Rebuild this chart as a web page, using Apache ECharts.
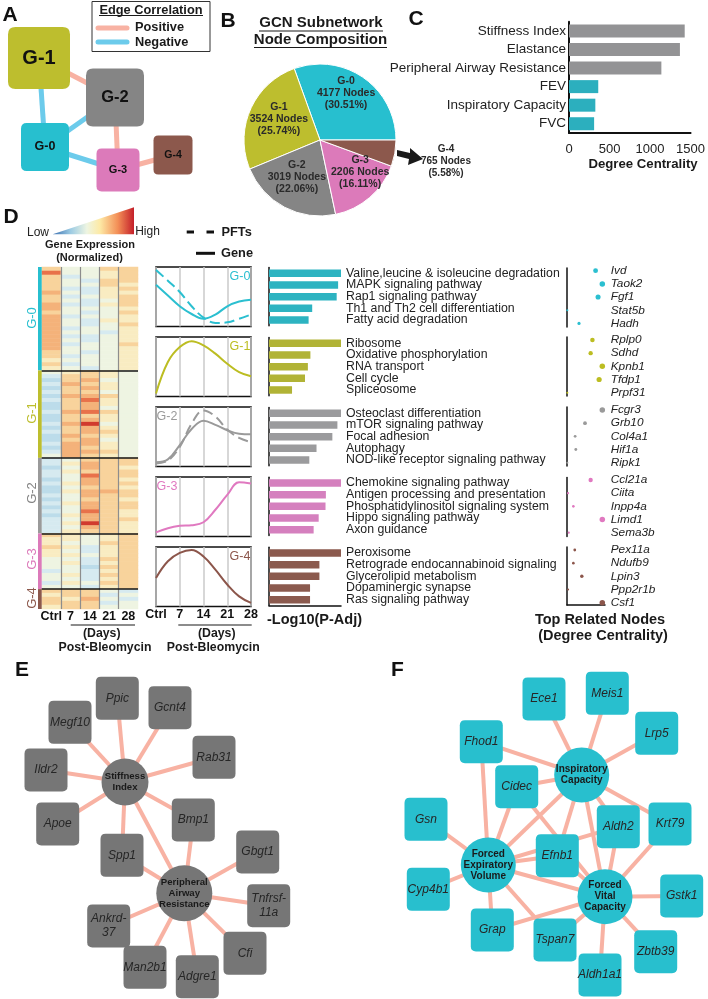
<!DOCTYPE html>
<html><head><meta charset="utf-8">
<script src="https://cdn.jsdelivr.net/npm/echarts@6/dist/echarts.min.js"></script>
<style>html,body{margin:0;padding:0;background:#fff}#c{width:708px;height:999px}</style>
</head><body><div id="c"></div>
<script>
const FONT = "'Liberation Sans', Arial, Helvetica, sans-serif";

// ---------- shared ----------
const groups = ['G-0','G-1','G-2','G-3','G-4'];
const groupColors = ['#27bfcf','#bdbe2e','#858585','#dc7aba','#8c584c'];
const stripColors = ['#27bfcf','#bdbe2e','#9a9a9a','#dc7aba','#8c584c'];
const curveColors = ['#2bbfd0','#bcbd22','#9a9a9a','#e079c0','#8c564b'];
const barColors = ['#2db3c1','#b1b336','#9b9b9d','#d580be','#8b5a4e'];
const edgePos = '#f8b2a3', edgeNeg = '#6ccbeb';

// ---------- Panel A ----------
const aNodeNames = ['G-1','G-2','G-0','G-3','G-4'];
const aNodeX = [39, 115, 45, 118, 173];
const aNodeY = [58, 97.5, 147, 170, 155];
const aNodeSize = [62, 58, 48, 43, 39];
const aLabelSize = [20, 16.5, 12.5, 11, 10.5];
const aLinks = [['G-1','G-2',1],['G-1','G-0',-1],['G-0','G-2',-1],['G-0','G-3',-1],['G-2','G-3',1],['G-3','G-4',1]];

// ---------- Panel B ----------
const nodeCounts = [4177, 3524, 3019, 2206, 765];
const nodePct = ['30.51','25.74','22.06','16.11','5.58'];

// ---------- Panel C ----------
const pftNames = ['Stiffness Index','Elastance','Peripheral Airway Resistance','FEV','Inspiratory Capacity','FVC'];
const pftDegree = [1428, 1369, 1140, 361, 325, 310];
const pftMechanic = [1, 1, 1, 0, 0, 0];

// ---------- Panel D: heatmap (levels 0..9, columns Ctrl,7,14,21,28) ----------
const heatCols = ['Ctrl','7','14','21','28'];
const heatG0 = ['64466','84456','63456','64366','64465','63356','74355','63456','64346','73356','74445','64346','73445','74355','74346','73445','74435','73345','74345','73446','74445','64345','63445','54445','63445','54345'];
const heatG1 = ['45654','36654','26744','37654','26754','36644','27764','36854','26754','26744','37864','26654','26754','37944','26754','36764','27654','26744','37754','27654','37764','47654'];
const heatG2 = ['34666','35766','24765','35666','34866','24765','35766','24665','25776','34766','24665','35766','24766','34865','25765','34766','35965','34765','35665'];
const heatG3 = ['65456','55456','54466','65356','54356','55456','44366','45356','44266','34356','45366','44356','35466','44356'];
const heatG4 = ['66643','56634','65743','66634','56644'];
const heatRows = [heatG0, heatG1, heatG2, heatG3, heatG4];
const heatPalette = ['#4a7fb8','#86b7d8','#bcdcea','#d6eaf0','#eef4e2','#f9ecc2','#f8d39c','#f4b27a','#e8714a','#d13a2e'];

// ---------- Panel D: trend curves (normalized 0..1) ----------
const curveDays = [0, 3.5, 7, 10.5, 14, 17.5, 21, 24.5, 28];
const dayTicks = [0, 28, 7];
const geneCurves = [
  [0.70,0.52,0.34,0.21,0.13,0.20,0.34,0.42,0.45],
  [0.05,0.58,0.83,0.93,0.86,0.72,0.55,0.41,0.34],
  [0.07,0.12,0.36,0.63,0.77,0.70,0.61,0.55,0.54],
  [0.07,0.14,0.18,0.19,0.24,0.45,0.70,0.91,0.89],
  [0.48,0.76,0.90,0.95,0.84,0.62,0.37,0.17,0.06]
];
const pftCurves = [
  [0.95,0.77,0.58,0.34,0.15,0.06,0.07,0.13,0.20],
  null,
  [0.05,0.10,0.33,0.72,0.94,0.84,0.62,0.48,0.41],
  null, null
];

// ---------- Panel D: KEGG pathways ----------
const pathways = [
  ['Valine,leucine & isoleucine degradation','MAPK signaling pathway','Rap1 signaling pathway','Th1 and Th2 cell differentiation','Fatty acid degradation'],
  ['Ribosome','Oxidative phosphorylation','RNA transport','Cell cycle','Spliceosome'],
  ['Osteoclast differentiation','mTOR signaling pathway','Focal adhesion','Autophagy','NOD-like receptor signaling pathway'],
  ['Chemokine signaling pathway','Antigen processing and presentation','Phosphatidylinositol signaling system','Hippo signaling pathway','Axon guidance'],
  ['Peroxisome','Retrograde endocannabinoid signaling','Glycerolipid metabolism','Dopaminergic synapse','Ras signaling pathway']
];
const pathwayScore = [
  [1.00,0.96,0.94,0.60,0.55],
  [1.00,0.575,0.54,0.50,0.32],
  [1.00,0.95,0.88,0.66,0.56],
  [1.00,0.79,0.785,0.69,0.62],
  [1.00,0.70,0.70,0.57,0.57]
];

// ---------- Panel D: top related nodes ----------
const topNodes = [
  ['Ivd','Taok2','Fgf1','Stat5b','Hadh'],
  ['Rplp0','Sdhd','Kpnb1','Tfdp1','Prpf31'],
  ['Fcgr3','Grb10','Col4a1','Hif1a','Ripk1'],
  ['Ccl21a','Ciita','Inpp4a','Limd1','Sema3b'],
  ['Pex11a','Ndufb9','Lpin3','Ppp2r1b','Csf1']
];
const topNodeScore = [
  [0.81,1.00,0.88,0.01,0.34],
  [0.72,0.67,1.00,0.91,0.01],
  [1.00,0.51,0.23,0.25,0.01],
  [0.67,0.03,0.18,1.00,0.05],
  [0.22,0.18,0.42,0.03,1.00]
];

// ---------- Panel E network ----------
const eNodes = [
  ['Stiffness Index',125,782,'hub',47,'Stiffness\nIndex'],
  ['Peripheral Airway Resistance',184.3,893.3,'hub',56,'Peripheral\nAirway\nResistance'],
  ['Ppic',117.3,698.3],['Gcnt4',170,707.7],['Megf10',70,722.3],['Rab31',214,757.3],
  ['Ildr2',46,770],['Apoe',57.7,824],['Bmp1',193.3,820],['Spp1',122,855.3],
  ['Gbgt1',257.7,852],['Tnfrsf-11a',268.7,905.7,'gene',43,'Tnfrsf-\n11a'],['Ankrd-37',108.7,926,'gene',43,'Ankrd-\n37'],
  ['Cfi',245,953.3],['Man2b1',145,967.3],['Adgre1',197.3,976.7]
];
const eLinks = [
  ['Stiffness Index',['Ppic','Gcnt4','Megf10','Rab31','Ildr2','Apoe','Bmp1','Spp1','Peripheral Airway Resistance']],
  ['Peripheral Airway Resistance',['Spp1','Bmp1','Gbgt1','Tnfrsf-11a','Cfi','Adgre1','Man2b1','Ankrd-37']]
];

// ---------- Panel F network ----------
const fNodes = [
  ['Inspiratory Capacity',581.7,775,'hub',55,'Inspiratory\nCapacity'],
  ['Forced Expiratory Volume',488.3,865,'hub',55,'Forced\nExpiratory\nVolume'],
  ['Forced Vital Capacity',605,896.7,'hub',55,'Forced\nVital\nCapacity'],
  ['Ece1',544,699],['Meis1',607.3,693.3],['Lrp5',656.7,733.3],['Fhod1',481.3,741.7],
  ['Cidec',516.7,786.7],['Gsn',426,819.3],['Krt79',670,824],['Aldh2',618.3,826.7],
  ['Efnb1',557.3,855.7],['Cyp4b1',428.3,889.3],['Gstk1',681.7,896],['Grap',492.3,930],
  ['Tspan7',555,940],['Zbtb39',655.7,951.7],['Aldh1a1',600,975]
];
const fLinks = [
  ['Inspiratory Capacity',['Ece1','Meis1','Lrp5','Fhod1','Cidec','Krt79','Aldh2','Efnb1','Forced Expiratory Volume','Forced Vital Capacity']],
  ['Forced Expiratory Volume',['Gsn','Cyp4b1','Grap','Fhod1','Cidec','Efnb1','Aldh2','Tspan7','Forced Vital Capacity']],
  ['Forced Vital Capacity',['Efnb1','Cidec','Aldh2','Krt79','Gstk1','Zbtb39','Aldh1a1','Tspan7','Grap']]
];

// =====================================================================
const RR = 'path://M12,0H88Q100,0 100,12V88Q100,100 88,100H12Q0,100 0,88V12Q0,0 12,0Z';
const grids = [], xAxes = [], yAxes = [], series = [];
const G = g => (grids.push(g), grids.length - 1);
const X = a => (xAxes.push(a), xAxes.length - 1);
const Y = a => (yAxes.push(a), yAxes.length - 1);
const S = s => (series.push(s), series.length - 1);
const hidden = (gi, min, max, inv) => ({type:'value', gridIndex:gi, min, max, inverse:!!inv, show:false});

// page grid for networks
const gPage = G({left:0, top:0, width:708, height:999});
const xPage = X(hidden(gPage, 0, 708));
const yPage = Y(hidden(gPage, 0, 999, true));

// Panel A graph
S({
  type:'graph', coordinateSystem:'cartesian2d', xAxisIndex:xPage, yAxisIndex:yPage, silent:true, z:3,
  data: aNodeNames.map((n,i)=>({name:n, value:[aNodeX[i], aNodeY[i]], symbol:RR, symbolSize:aNodeSize[i],
    itemStyle:{color:groupColors[groups.indexOf(n)]},
    label:{show:true, position:'inside', fontSize:aLabelSize[i], fontWeight:'bold', color:'#111', fontFamily:FONT}})),
  links: aLinks.map(l=>({source:l[0], target:l[1], lineStyle:{color:l[2]>0?edgePos:edgeNeg, width:5, opacity:1, curveness:0}}))
});

function netSeries(nodes, links, color, hubFont) {
  const data = nodes.map(n => {
    const hub = n[3] === 'hub';
    return {
      name:n[0], value:[n[1], n[2]], symbol: hub ? 'circle' : RR, symbolSize: n[4] || 43,
      itemStyle:{color},
      label: hub
        ? {show:true, position:'inside', formatter:n[5], fontWeight:'bold', fontSize:hubFont, lineHeight:11, color:'#1a1a1a', fontFamily:FONT}
        : {show:true, position:'inside', formatter:n[5] || n[0], fontStyle:'italic', fontSize:12, lineHeight:14, color:'#262626', fontFamily:FONT}
    };
  });
  const ls = [];
  links.forEach(([src, tgts]) => tgts.forEach(t => ls.push({source:src, target:t})));
  return {type:'graph', coordinateSystem:'cartesian2d', xAxisIndex:xPage, yAxisIndex:yPage, silent:true, z:3,
    data, links: ls, lineStyle:{color:edgePos, width:4, opacity:1}};
}
S(netSeries(eNodes, eLinks, '#767676', 9.6));
S(netSeries(fNodes, fLinks, '#28bfce', 10));

// Panel B pie
const pieOffsets = [[2.5,-13.6],[-3.6,-4.5],[-4,0.6],[13.3,1.3],[85.6,14.4]];
S({
  type:'pie', center:[320,140], radius:76, startAngle:0, clockwise:false, silent:true,
  itemStyle:{borderColor:'#fff', borderWidth:1},
  labelLine:{show:false},
  label:{show:true, position:'inside', fontWeight:'bold', fontSize:10.5, lineHeight:12, color:'#2a2a2a', fontFamily:FONT,
    formatter: p => p.name + '\n' + p.value + ' Nodes\n(' + nodePct[p.dataIndex] + '%)'},
  data: groups.map((g,i)=>({name:g, value:nodeCounts[i], itemStyle:{color:groupColors[i]},
    label:{offset:pieOffsets[i], fontSize: i===4 ? 10 : 10.5}}))
});

// Panel C
const gC = G({left:569, top:21.7, width:126, height:111.3});
const xC = X({type:'value', gridIndex:gC, min:0, max:1500, interval:500,
  axisLine:{show:true, lineStyle:{color:'#111', width:2}}, axisTick:{show:false}, splitLine:{show:false},
  axisLabel:{fontSize:13, color:'#222', margin:10, fontFamily:FONT, formatter: v => String(v)}});
const yC = Y({type:'category', gridIndex:gC, data:pftNames, inverse:true,
  axisLine:{show:true, lineStyle:{color:'#111', width:2}}, axisTick:{show:false},
  axisLabel:{fontSize:13.5, color:'#222', margin:3, fontFamily:FONT}});
S({type:'bar', xAxisIndex:xC, yAxisIndex:yC, barWidth:13, silent:true,
  data: pftDegree.map((v,i)=>({value:v, itemStyle:{color: pftMechanic[i] ? '#939395' : '#2cafbe'}}))});

// Panel D heatmap
const H = {left:41.7, top:267, width:96.3, height:342};
const groupSizes = heatRows.map(r => r.length);
const N = groupSizes.reduce((a,b)=>a+b, 0);
const rowIds = [], heatData = [];
let ri = 0;
heatRows.forEach(rows => rows.forEach(r => {
  rowIds.push(String(ri));
  for (let c = 0; c < heatCols.length; c++) heatData.push([c, ri, +r[c]]);
  ri++;
}));
const gH = G(Object.assign({}, H));
const xH = X({type:'category', gridIndex:gH, data:heatCols, axisLine:{show:false}, axisTick:{show:false}, splitLine:{show:false},
  axisLabel:{interval:0, fontWeight:'bold', fontSize:12.5, color:'#111', margin:1, fontFamily:FONT}});
const yH = Y({type:'category', gridIndex:gH, data:rowIds, inverse:true, show:false});
const heatIdx = S({type:'heatmap', xAxisIndex:xH, yAxisIndex:yH, data:heatData, silent:true, itemStyle:{borderWidth:0}});

// overlay lines (column separators + group separators)
const gO = G(Object.assign({}, H));
const xO = X(hidden(gO, 0, heatCols.length));
const yO = Y(hidden(gO, 0, N, true));
const bounds = []; let acc = 0;
groupSizes.slice(0, -1).forEach(s => { acc += s; bounds.push(acc); });
const ovl = [];
for (let c = 1; c < heatCols.length; c++) ovl.push({coords:[[c,0],[c,N]], lineStyle:{color:'#8d8d8d', width:1.2, opacity:1}});
bounds.forEach(b => ovl.push({coords:[[0,b],[heatCols.length,b]], lineStyle:{color:'#151515', width:1.6, opacity:1}}));
S({type:'lines', coordinateSystem:'cartesian2d', xAxisIndex:xO, yAxisIndex:yO, silent:true, z:4, data:ovl, lineStyle:{opacity:1}});

// group color strip
const gS = G({left:38, top:267, width:3.7, height:342});
const xS = X({type:'category', gridIndex:gS, data:['s'], show:false});
const yS = Y(hidden(gS, 0, N, true));
groups.forEach((g,i) => S({type:'bar', xAxisIndex:xS, yAxisIndex:yS, stack:'strip', barWidth:'100%', silent:true,
  data:[groupSizes[i]], itemStyle:{color:stripColors[i]}}));

// trend curves
const boxTops = [267,337,407,477,547];
groups.forEach((g,i) => {
  const gi = G({left:156, top:boxTops[i], width:95, height:59.5, show:true, borderColor:'#111', borderWidth:1.6, backgroundColor:'rgba(0,0,0,0)'});
  const xi = X({type:'value', gridIndex:gi, min:dayTicks[0], max:dayTicks[1], interval:dayTicks[2],
    axisLine:{show:false}, axisTick:{show:false},
    splitLine:{show:true, lineStyle:{color:'#cacaca', width:1.5}},
    axisLabel:{show: i === 4, formatter: v => v === 0 ? 'Ctrl' : String(v), fontWeight:'bold', fontSize:12.5, color:'#111', margin:2, fontFamily:FONT}});
  const yi = Y(hidden(gi, 0, 1));
  S({type:'line', xAxisIndex:xi, yAxisIndex:yi, smooth:0.4, showSymbol:false, silent:true,
    data: curveDays.map((d,k)=>[d, geneCurves[i][k]]), lineStyle:{color:curveColors[i], width:2}});
  if (pftCurves[i]) S({type:'line', xAxisIndex:xi, yAxisIndex:yi, smooth:0.4, showSymbol:false, silent:true,
    data: curveDays.map((d,k)=>[d, pftCurves[i][k]]), lineStyle:{color:curveColors[i], width:2, type:[10,5]}});
});

// pathway bars
const barTops = [267.5,337.5,407.5,477.2,547.2];
groups.forEach((g,i) => {
  const gi = G({left:269, top:barTops[i], width:72, height:58.3});
  const xi = X({type:'value', gridIndex:gi, min:0, max:1, axisLabel:{show:false}, axisTick:{show:false}, splitLine:{show:false},
    axisLine:{show: i === 4, lineStyle:{color:'#111', width:1.5}}});
  const yl = Y({type:'category', gridIndex:gi, data:pathways[i], inverse:true, position:'left',
    axisLine:{show:true, lineStyle:{color:'#111', width:1.5}}, axisTick:{show:false}, axisLabel:{show:false}});
  Y({type:'category', gridIndex:gi, data:pathways[i], inverse:true, position:'right',
    axisLine:{show:false}, axisTick:{show:false},
    axisLabel:{show:true, interval:0, fontSize:12.3, color:'#222', margin:5, fontFamily:FONT}});
  S({type:'bar', xAxisIndex:xi, yAxisIndex:yl, barWidth:7.5, silent:true, data:pathwayScore[i],
    itemStyle:{color:barColors[i]}});
});

// top related node dots
const frameTops = [268,337,407,477.5,547];
const dotTops = [270.7,340,410,480,550];
groups.forEach((g,i) => {
  const gf = G({left:567, top:frameTops[i], width:38, height: i === 4 ? 58 : 59});
  X({type:'value', gridIndex:gf, min:0, max:1, axisLabel:{show:false}, axisTick:{show:false}, splitLine:{show:false},
    axisLine:{show: i === 4, onZero:false, lineStyle:{color:'#111', width:1.5}}});
  Y({type:'value', gridIndex:gf, min:0, max:1, axisLabel:{show:false}, axisTick:{show:false}, splitLine:{show:false},
    axisLine:{show:true, onZero:false, lineStyle:{color:'#111', width:1.5}}});
  const gd = G({left:567, top:dotTops[i], width:35.3, height:52.7});
  const xd = X(hidden(gd, 0, 1));
  const yd = Y({type:'category', gridIndex:gd, data:topNodes[i], inverse:true, boundaryGap:false, position:'right',
    axisLine:{show:false}, axisTick:{show:false}, splitLine:{show:false},
    axisLabel:{show:true, interval:0, fontSize:11.8, fontStyle:'italic', color:'#222', margin:8.4, fontFamily:FONT}});
  S({type:'scatter', xAxisIndex:xd, yAxisIndex:yd, clip:false, silent:true,
    symbolSize: v => 2 + 3.5 * v[0],
    data: topNodeScore[i].map((v,k)=>[v, k]), itemStyle:{color:curveColors[i], opacity:1}});
});

// ---------- graphic texts & decorations ----------
const T = (text, x, y, font, fill, opt) => Object.assign({type:'text', x, y, silent:true, z:10,
  style:{text, font: font + ' ' + FONT, fill: fill || '#111', textAlign:'center', textVerticalAlign:'middle', align:'center', verticalAlign:'middle'}}, opt || {});
const Lseg = (x1,y1,x2,y2,stroke,w,dash) => ({type:'line', silent:true, z:10, shape:{x1,y1,x2,y2},
  style:{stroke, lineWidth:w, lineDash:dash || null, lineCap:'butt'}});
const TL = (text, x, y, font, fill) => { const t = T(text, x, y, font, fill); t.style.textAlign = 'left'; t.style.align = 'left'; return t; };

const graphics = [
  T('A', 10, 15, 'bold 21px'), T('B', 228, 21, 'bold 21px'), T('C', 416, 19.5, 'bold 21px'),
  T('D', 11, 217, 'bold 21px'), T('E', 22, 670, 'bold 21px'), T('F', 397.5, 670, 'bold 21px'),
  // A legend
  {type:'rect', silent:true, z:10, shape:{x:92, y:1.5, width:118, height:50}, style:{fill:'none', stroke:'#333', lineWidth:1}},
  T('Edge Correlation', 151, 10, 'bold 12.8px', '#1a1a1a'),
  Lseg(99, 15.5, 203, 15.5, '#1a1a1a', 1),
  {type:'line', silent:true, z:10, shape:{x1:98, y1:28, x2:127, y2:28}, style:{stroke:edgePos, lineWidth:5, lineCap:'round'}},
  {type:'line', silent:true, z:10, shape:{x1:98, y1:42, x2:127, y2:42}, style:{stroke:edgeNeg, lineWidth:5, lineCap:'round'}},
  TL('Positive', 135, 27.5, 'bold 12.8px', '#1a1a1a'),
  TL('Negative', 135, 42, 'bold 12.8px', '#1a1a1a'),
  // B title
  T('GCN Subnetwork', 321, 23, 'bold 15px', '#1a1a1a'), Lseg(259, 31, 383, 31, '#1a1a1a', 1.2),
  T('Node Composition', 320.5, 40, 'bold 15px', '#1a1a1a'), Lseg(254, 47.5, 387, 47.5, '#1a1a1a', 1.2),
  {type:'polygon', silent:true, z:10, shape:{points:[[397,150],[410,153],[410,148],[423,159],[408,165],[409,159],[397,156]]}, style:{fill:'#1a1a1a'}},
  // C axis name
  T('Degree Centrality', 643, 164.5, 'bold 13.2px', '#1a1a1a'),
  // D colour legend
  {type:'polygon', silent:true, z:10, shape:{points:[[52.7,234.3],[134,234.3],[134,207.3]]},
    style:{fill:{type:'linear', x:0, y:0, x2:1, y2:0, colorStops:[
      {offset:0, color:'#3a6fb0'},{offset:0.22, color:'#9ccbe3'},{offset:0.42, color:'#eef5e2'},
      {offset:0.58, color:'#fdeaa6'},{offset:0.8, color:'#f38f57'},{offset:1, color:'#c41f2a'}]}}},
  T('Low', 38, 232.5, '12px', '#222'), T('High', 147.5, 231.5, '12px', '#222'),
  T('Gene Expression', 90, 245, 'bold 11px', '#1a1a1a'), T('(Normalized)', 89.5, 258, 'bold 11px', '#1a1a1a'),
  // heatmap group labels
  ...groups.map((g,i) => T(g, 32, [318,413,493,559,598][i], '13px', groupColors[i], {rotation:Math.PI/2})),
  // days captions
  Lseg(70.7, 625, 135, 625, '#1a1a1a', 1.2), T('(Days)', 101.7, 634, 'bold 12.3px', '#1a1a1a'), T('Post-Bleomycin', 105, 647.5, 'bold 12.3px', '#1a1a1a'),
  Lseg(178.3, 625, 251.7, 625, '#1a1a1a', 1.2), T('(Days)', 216.7, 634, 'bold 12.3px', '#1a1a1a'), T('Post-Bleomycin', 213.3, 647.5, 'bold 12.3px', '#1a1a1a'),
  // PFT / Gene legend
  Lseg(186.7, 232, 194, 232, '#111', 3), Lseg(206.5, 232, 214, 232, '#111', 3), TL('PFTs', 221.5, 232, 'bold 12.8px', '#1a1a1a'),
  Lseg(196, 253.3, 215, 253.3, '#111', 3), TL('Gene', 221, 253.3, 'bold 12.8px', '#1a1a1a'),
  // curve box labels
  T('G-0', 240, 277, '12.5px', curveColors[0]), T('G-1', 240, 347, '12.5px', curveColors[1]),
  T('G-2', 167, 417, '12.5px', curveColors[2]), T('G-3', 167, 487, '12.5px', curveColors[3]),
  T('G-4', 240, 557, '12.5px', curveColors[4]),
  // bar / dot axis titles
  T('-Log10(P-Adj)', 314.5, 620, 'bold 14.5px', '#1a1a1a'),
  T('Top Related Nodes', 600, 620, 'bold 14.5px', '#1a1a1a'),
  T('(Degree Centrality)', 603, 636, 'bold 14.5px', '#1a1a1a')
];

const chart = echarts.init(document.getElementById('c'), null, {renderer:'canvas'});
chart.setOption({
  animation:false,
  backgroundColor:'#fff',
  textStyle:{fontFamily:FONT},
  grid:grids, xAxis:xAxes, yAxis:yAxes,
  visualMap:{show:false, type:'continuous', min:0, max:9, seriesIndex:heatIdx, inRange:{color:heatPalette}},
  series:series,
  graphic:graphics
});
</script></body></html>
